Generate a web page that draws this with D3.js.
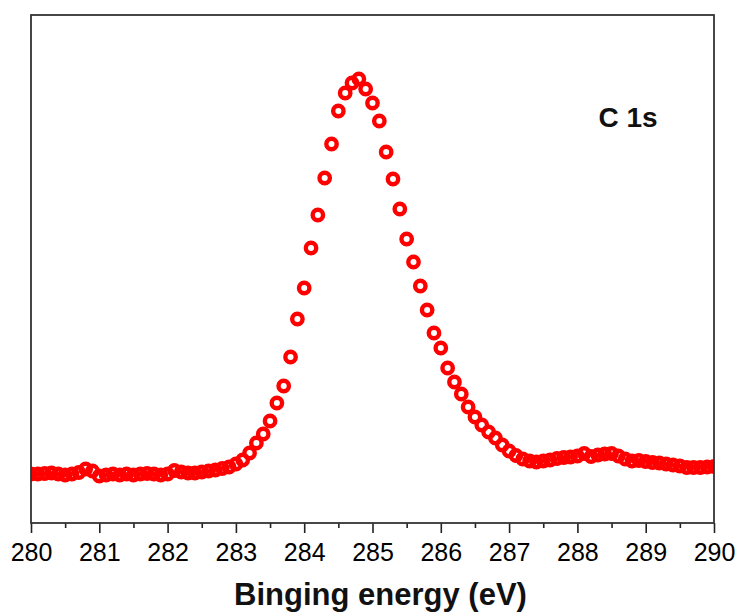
<!DOCTYPE html>
<html>
<head>
<meta charset="utf-8">
<script src="https://cdn.jsdelivr.net/npm/d3@7"></script>
<style>
  html, body { margin: 0; padding: 0; background: #ffffff; }
  svg { display: block; }
</style>
</head>
<body>
<div id="chart"></div>
<script>
// Binding energy grid (eV), start / step / count
const energyStart = 280;
const energyStep = 0.1;
// Intensity (a.u.), one value per 0.1 eV from 280 to 290
const intensity = [
  49, 49, 49.5, 50, 49, 48, 49, 50.5, 54, 52,
  47, 48, 49, 48, 49, 48, 49, 49.5, 49, 48,
  49, 52.5, 51, 50, 50, 51, 52, 53, 54.5, 56,
  59, 63, 70, 80, 89, 102, 120, 137, 166, 204,
  235, 275, 308, 345, 379, 412, 430, 440, 444, 434,
  420, 402, 371, 344, 314, 284, 261, 237, 213, 190,
  175, 155, 141, 129, 116, 106, 98, 91, 85, 78,
  72, 67.5, 64, 62, 61, 62, 63, 64.5, 65.5, 66,
  67, 69.5, 66.5, 68, 69, 69.5, 67, 64, 62, 62.5,
  61.5, 60.5, 60, 59, 58, 57, 55.5, 55.5, 55.5, 56,
  56.5
];
const xTickValues = [280, 281, 282, 283, 284, 285, 286, 287, 288, 289, 290];
const xMinorTickValues = [280.5, 281.5, 282.5, 283.5, 284.5, 285.5, 286.5, 287.5, 288.5, 289.5];
const xLabel = "Binging energy (eV)";
const peakLabel = "C 1s";

const data = intensity.map((v, i) => ({ e: +(energyStart + i * energyStep).toFixed(1), v }));

const W = 742, H = 615;
const m = { left: 31, right: 28, top: 15, bottom: 92 };
const iw = W - m.left - m.right, ih = H - m.top - m.bottom;

const svg = d3.select("#chart").append("svg").attr("width", W).attr("height", H);
const g = svg.append("g").attr("transform", `translate(${m.left},${m.top})`);

const x = d3.scaleLinear().domain([280, 290]).range([0, iw]);
const y = d3.scaleLinear().domain([0, 508]).range([ih, 0]);

svg.append("defs").append("clipPath").attr("id", "clip")
  .append("rect").attr("width", iw).attr("height", ih);

// points
g.append("g").attr("clip-path", "url(#clip)")
  .selectAll("circle").data(data).join("circle")
  .attr("cx", d => x(d.e))
  .attr("cy", d => y(d.v))
  .attr("r", 5.2)
  .attr("fill", "none")
  .attr("stroke", "#ff0000")
  .attr("stroke-width", 4.4);

// minor ticks
g.append("g").attr("transform", `translate(0,${ih})`)
  .call(d3.axisBottom(x).tickValues(xMinorTickValues).tickSize(5).tickFormat(""))
  .call(a => a.select(".domain").remove())
  .call(a => a.selectAll("line").attr("stroke", "#222").attr("stroke-width", 1.6));

// major ticks
g.append("g").attr("transform", `translate(0,${ih})`)
  .call(d3.axisBottom(x).tickValues(xTickValues).tickSize(10).tickPadding(10).tickFormat(d3.format("d")))
  .call(a => a.select(".domain").remove())
  .call(a => a.selectAll("line").attr("stroke", "#222").attr("stroke-width", 1.6))
  .call(a => a.selectAll("text")
    .attr("font-family", "Liberation Sans, Arial, sans-serif")
    .attr("font-size", 25)
    .attr("fill", "#000"));

// frame
g.append("rect")
  .attr("width", iw).attr("height", ih)
  .attr("fill", "none").attr("stroke", "#333").attr("stroke-width", 1.8);

// x label
svg.append("text")
  .attr("x", m.left + iw / 2 + 8)
  .attr("y", 605)
  .attr("text-anchor", "middle")
  .attr("font-family", "Liberation Sans, Arial, sans-serif")
  .attr("font-weight", "bold")
  .attr("font-size", 31)
  .attr("fill", "#111")
  .text(xLabel);

// peak label
svg.append("text")
  .attr("x", 628)
  .attr("y", 127)
  .attr("text-anchor", "middle")
  .attr("font-family", "Liberation Sans, Arial, sans-serif")
  .attr("font-weight", "bold")
  .attr("font-size", 28)
  .attr("fill", "#111")
  .text(peakLabel);
</script>
</body>
</html>
